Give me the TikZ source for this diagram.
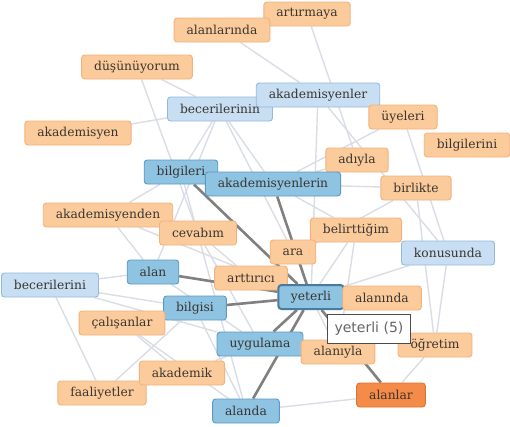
\documentclass[tikz,border=0pt]{standalone}
\usepackage{fontspec}
\setmainfont{DejaVu Serif}
\newfontfamily\tipfont{DejaVu Sans}
\usepackage{tikz}
\usetikzlibrary{backgrounds}
\definecolor{peachfill}{HTML}{FCCB9C}
\definecolor{peachline}{HTML}{F2B27C}
\definecolor{palefill}{HTML}{C8DEF3}
\definecolor{paleline}{HTML}{93B9DD}
\definecolor{midfill}{HTML}{8EC3E2}
\definecolor{midline}{HTML}{5C9AC4}
\definecolor{hotfill}{HTML}{F58B48}
\definecolor{hotline}{HTML}{DB7434}
\definecolor{wordtext}{HTML}{3A3530}
\definecolor{weakline}{HTML}{DADDE6}
\tikzstyle{cloud}=[
  x=1pt, y=-1pt, font=\fontsize{12.3}{14}\selectfont
]
\tikzstyle{word}=[
  draw, rounded corners=3pt, line width=0.9pt, inner xsep=12.5pt, inner ysep=0pt,
  minimum height=24pt, text=wordtext
]
\tikzstyle{peach}=[word, fill=peachfill, draw=peachline]
\tikzstyle{pale}=[word, fill=palefill, draw=paleline]
\tikzstyle{mid}=[word, fill=midfill, draw=midline]
\tikzstyle{hot}=[word, fill=hotfill, draw=hotline]
\tikzstyle{weak}=[
  line width=1.4pt, draw=weakline
]
\tikzstyle{strong}=[
  line width=2.6pt, draw=black!50
]
\tikzstyle{tip}=[
  draw=black!70, fill=white, line width=0.8pt, inner xsep=7pt,
  minimum height=29pt, font=\tipfont\fontsize{14}{16}\selectfont, text=black!60
]

\begin{document}
\begin{tikzpicture}[cloud]
  \useasboundingbox (0,0) rectangle (510,426);

  \node (artirmaya) at (307,14) [peach] {artırmaya};
  \node (alanlarinda) at (222,30) [peach] {alanlarında};
  \node (dusunuyorum) at (137,67) [peach] {düşünüyorum};
  \node (becerilerinin) at (220,109) [pale] {becerilerinin};
  \node (akademisyenler) at (318,95) [pale] {akademisyenler};
  \node (uyeleri) at (403,117) [peach] {üyeleri};
  \node (bilgilerini) at (467,145) [peach] {bilgilerini};
  \node (akademisyen) at (78,133) [peach] {akademisyen};
  \node (adiyla) at (357,160) [peach] {adıyla};
  \node (birlikte) at (416,188) [peach] {birlikte};
  \node (bilgileri) at (181,172) [mid] {bilgileri};
  \node (akademisyenlerin) at (273,184) [mid] {akademisyenlerin};
  \node (akademisyenden) at (108,215) [peach] {akademisyenden};
  \node (cevabim) at (198,233) [peach] {cevabım};
  \node (belirttigim) at (356,230) [peach] {belirttiğim};
  \node (ara) at (293,252) [peach] {ara};
  \node (konusunda) at (448,253) [pale] {konusunda};
  \node (alan) at (153,272) [mid] {alan};
  \node (arttirici) at (251,278) [peach] {arttırıcı};
  \node (becerilerini) at (50,285) [pale] {becerilerini};
  \node (bilgisi) at (195,308) [mid] {bilgisi};
  \node (yeterli) at (311,297) [mid, draw=midline!80!black, line width=2pt] {yeterli};
  \node (alaninda) at (382,298) [peach] {alanında};
  \node (calisanlar) at (122,323) [peach] {çalışanlar};
  \node (uygulama) at (260,344) [mid] {uygulama};
  \node (alaniyla) at (338,352) [peach] {alanıyla};
  \node (ogretim) at (435,345) [peach] {öğretim};
  \node (faaliyetler) at (102,393) [peach] {faaliyetler};
  \node (akademik) at (182,373) [peach] {akademik};
  \node (alanlar) at (391,395) [hot] {alanlar};
  \node (alanda) at (246,411) [mid] {alanda};

  % hover label
  \node (yeterlitip) at (369,329) [tip] {yeterli (5)};

  \begin{scope}[on background layer]
    \fill [white] (0,0) rectangle (510,426);
    % faint links
    \foreach \a/\b in {alanlarinda/akademisyenler, artirmaya/adiyla,
        dusunuyorum/cevabim, akademisyen/becerilerinin,
        becerilerinin/bilgileri, becerilerinin/akademisyenlerin,
        becerilerinin/ara, becerilerinin/alan, akademisyenler/yeterli,
        akademisyenler/konusunda, uyeleri/konusunda, uyeleri/akademisyenlerin,
        adiyla/akademisyenlerin, birlikte/akademisyenlerin, birlikte/arttirici,
        konusunda/ogretim, konusunda/yeterli, belirttigim/yeterli,
        belirttigim/akademisyenlerin, belirttigim/alaniyla,
        akademisyenden/bilgileri, akademisyenden/yeterli, akademisyenden/alan,
        cevabim/arttirici, cevabim/uygulama, becerilerini/alan,
        becerilerini/bilgisi, becerilerini/uygulama, becerilerini/faaliyetler,
        calisanlar/bilgisi, calisanlar/akademik, calisanlar/alanda,
        akademik/faaliyetler, akademik/uygulama, faaliyetler/bilgisi,
        alanda/alanlar, alanda/bilgisi, alanlar/ogretim, ogretim/birlikte,
        alaninda/yeterli, alaniyla/yeterli, bilgileri/alanda,
        dusunuyorum/becerilerinin, alan/uygulama}
      \draw [weak] (\a) -- (\b);
    % heavy links into yeterli
    \foreach \a in {bilgileri, akademisyenlerin, alan, bilgisi, uygulama,
        alanda, alanlar}
      \draw [strong] (\a) -- (yeterli);
  \end{scope}
\end{tikzpicture}
\end{document}
